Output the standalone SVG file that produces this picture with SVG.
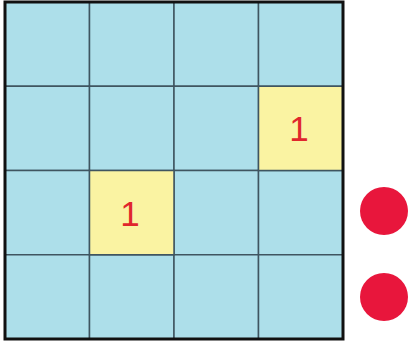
<svg xmlns="http://www.w3.org/2000/svg" width="409" height="343" viewBox="0 0 409 343">
<style>
.cell{fill:#ADDFEA;stroke:#3F5560;stroke-width:1.5}
.hot{fill:#FAF3A2;stroke:#3F5560;stroke-width:1.5}
.num{font-family:"Liberation Sans",Arial,sans-serif;font-size:35px;fill:#E0262C;text-anchor:middle}
.dot{fill:#E8163C}
</style>
<rect width="409" height="343" fill="#FFFFFF"/>
<g id="grid">
<rect class="cell" x="5" y="2" width="84.5" height="84.25"/>
<rect class="cell" x="89.5" y="2" width="84.5" height="84.25"/>
<rect class="cell" x="174" y="2" width="84.5" height="84.25"/>
<rect class="cell" x="258.5" y="2" width="84.5" height="84.25"/>
<rect class="cell" x="5" y="86.25" width="84.5" height="84.25"/>
<rect class="cell" x="89.5" y="86.25" width="84.5" height="84.25"/>
<rect class="cell" x="174" y="86.25" width="84.5" height="84.25"/>
<rect class="cell" x="5" y="170.5" width="84.5" height="84.25"/>
<rect class="cell" x="174" y="170.5" width="84.5" height="84.25"/>
<rect class="cell" x="258.5" y="170.5" width="84.5" height="84.25"/>
<rect class="cell" x="5" y="254.75" width="84.5" height="84.25"/>
<rect class="cell" x="89.5" y="254.75" width="84.5" height="84.25"/>
<rect class="cell" x="174" y="254.75" width="84.5" height="84.25"/>
<rect class="cell" x="258.5" y="254.75" width="84.5" height="84.25"/>
</g>
<g id="cell-r1c3">
<rect class="hot" x="258.5" y="86.25" width="84.5" height="84.25"/>
<text class="num" x="299" y="141">1</text>
</g>
<g id="cell-r2c1">
<rect class="hot" x="89.5" y="170.5" width="84.5" height="84.25"/>
<text class="num" x="130" y="226">1</text>
</g>
<rect id="border" x="5" y="2" width="338" height="337" fill="none" stroke="#111111" stroke-width="3"/>
<g id="dot1"><circle class="dot" cx="384" cy="211" r="24"/></g>
<g id="dot2"><circle class="dot" cx="384" cy="297" r="24"/></g>
</svg>
